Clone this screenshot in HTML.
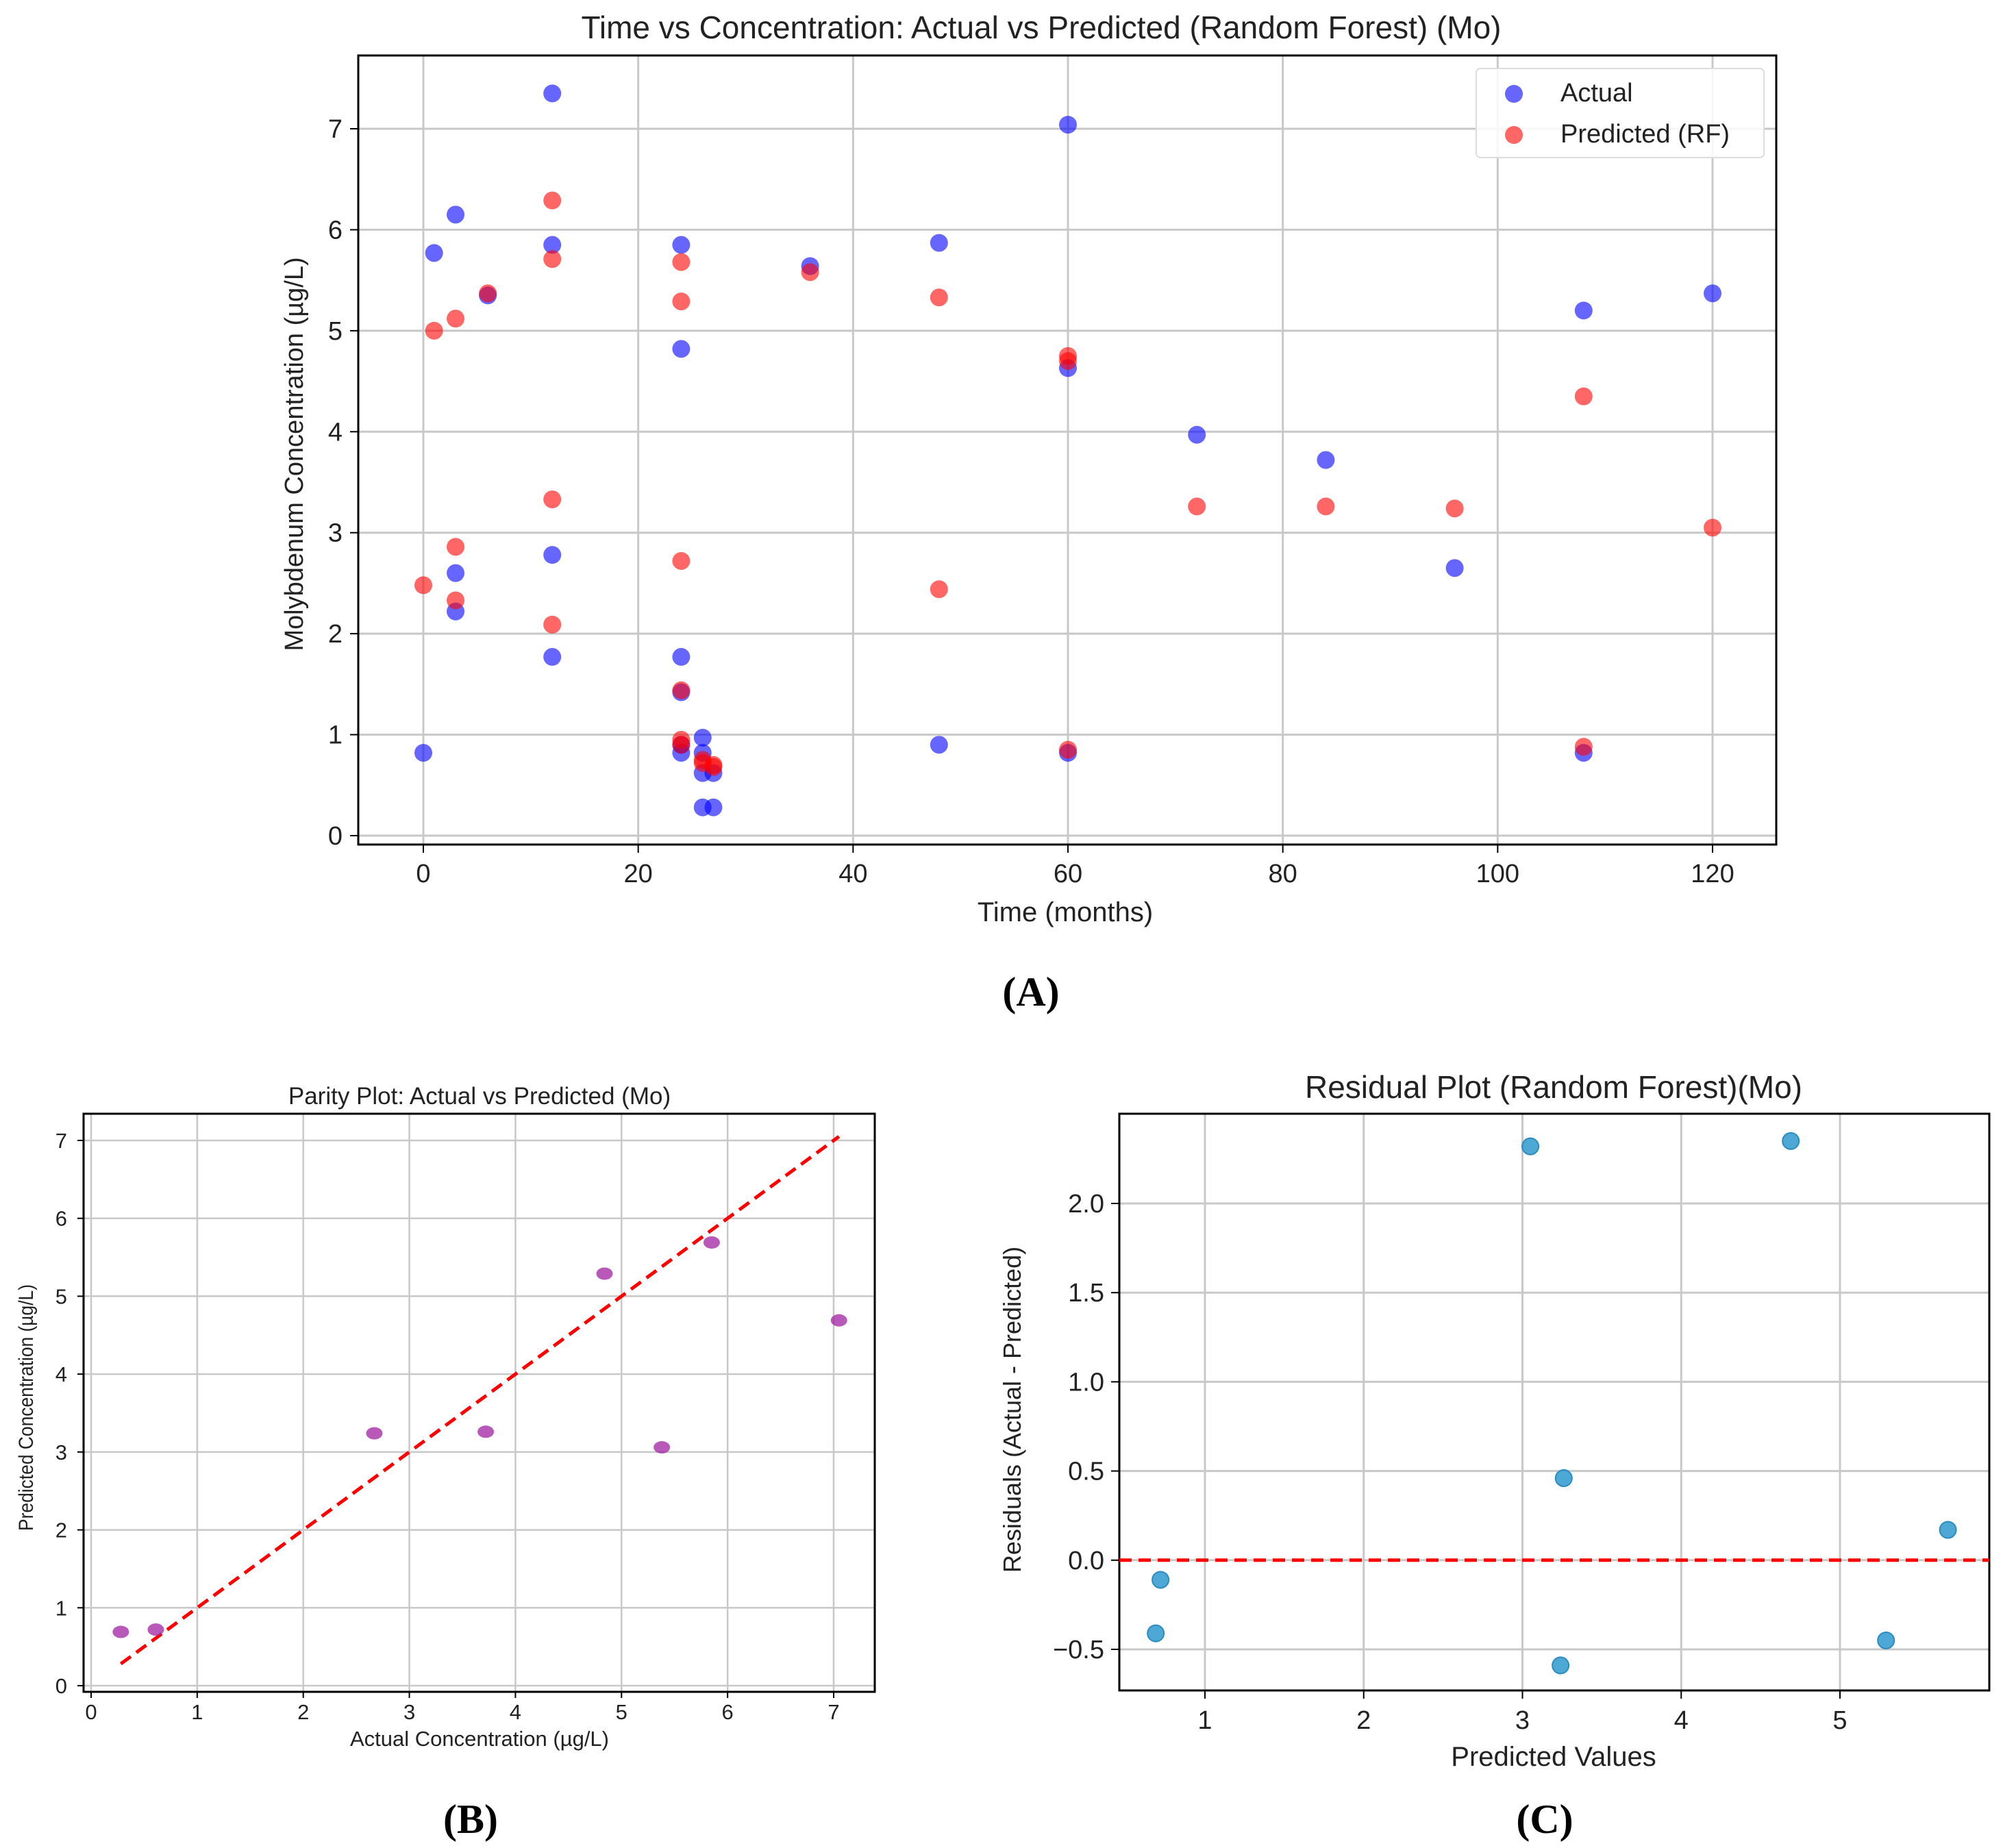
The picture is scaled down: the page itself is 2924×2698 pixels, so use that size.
<!DOCTYPE html>
<html><head><meta charset="utf-8"><style>
body{margin:0;background:#fff;}
svg{display:block;font-family:"Liberation Sans","DejaVu Sans",sans-serif;}
</style></head><body>
<svg id="s" width="2924" height="2698" viewBox="0 0 2924 2698"></svg>
<script>
// ---- Panel A data ----
const aTimeActual=[0,1,3,3,3,6,12,12,12,12,24,24,24,24,24,24,26,26,26,26,27,27,36,48,48,60,60,60,72,84,96,108,108,120];
const aConcActual=[0.82,5.77,6.15,2.6,2.22,5.35,7.35,5.85,2.78,1.77,5.85,4.82,1.77,1.42,0.9,0.82,0.97,0.82,0.62,0.28,0.62,0.28,5.64,5.87,0.9,7.04,4.63,0.82,3.97,3.72,2.65,5.2,0.82,5.37];
const aTimePred=[0,1,3,3,3,6,12,12,12,12,24,24,24,24,24,24,26,26,27,27,36,48,48,60,60,60,72,84,96,108,108,120];
const aConcPred=[2.48,5.0,5.12,2.86,2.33,5.37,6.29,5.71,3.33,2.09,5.68,5.29,2.72,1.44,0.95,0.9,0.75,0.72,0.7,0.68,5.58,5.33,2.44,4.75,4.7,0.85,3.26,3.26,3.24,4.35,0.88,3.05];
const aXTicks=[0,20,40,60,80,100,120];
const aYTicks=[0,1,2,3,4,5,6,7];
// ---- Panel B data ----
const bActual=[0.28,0.61,2.67,3.72,4.84,5.38,5.85,7.05];
const bPred=[0.69,0.72,3.24,3.26,5.29,3.06,5.69,4.69];
const bTicks=[0,1,2,3,4,5,6,7];
// ---- Panel C data ----
const cPred=[0.69,0.72,3.05,3.26,3.24,4.69,5.29,5.68];
const cResid=[-0.41,-0.11,2.32,0.46,-0.59,2.35,-0.45,0.17];
const cXTicks=[1,2,3,4,5];
const cYTicks=[-0.5,0.0,0.5,1.0,1.5,2.0];
const cYLabels=["\u22120.5","0.0","0.5","1.0","1.5","2.0"];

const NS="http://www.w3.org/2000/svg";
const svg=document.getElementById('s');
function el(tag,attrs,parent,text){const e=document.createElementNS(NS,tag);for(const k in attrs)e.setAttribute(k,attrs[k]);if(text!==undefined)e.textContent=text;(parent||svg).appendChild(e);return e;}
function lin(d0,d1,p0,p1){return v=>p0+(v-d0)*(p1-p0)/(d1-d0);}

// ===== Panel A =====
const AL=523,AR=2593,AT=81,AB=1233;
const ax=lin(0,120,618,2500), ay=lin(0,7,1220,188);
const gA=el('g',{});


aXTicks.forEach(t=>{const x=ax(t);
 const l=el('line',{x1:x,x2:x,y1:AT,y2:AB,stroke:'#c8c8c8','stroke-width':3},gA);
 el('line',{x1:x,x2:x,y1:AB,y2:AB+12,stroke:'#000','stroke-width':2},gA);
 const tx=el('text',{x:x,y:AB+55,'font-size':38,'text-anchor':'middle',fill:'#222'},gA,String(t));});
aYTicks.forEach(t=>{const y=ay(t);
 const l=el('line',{x1:AL,x2:AR,y1:y,y2:y,stroke:'#c8c8c8','stroke-width':3},gA);
 el('line',{x1:AL-12,x2:AL,y1:y,y2:y,stroke:'#000','stroke-width':2},gA);
 const tx=el('text',{x:500,y:y+13,'font-size':38,'text-anchor':'end',fill:'#222'},gA,String(t));});
const fa=el('rect',{x:AL,y:AT,width:AR-AL,height:AB-AT,fill:'none',stroke:'#000','stroke-width':3},gA);
aTimeActual.forEach((t,i)=>{const c=el('circle',{cx:ax(t),cy:ay(aConcActual[i]),r:13,fill:'#0000ff','fill-opacity':0.6},gA);});
aTimePred.forEach((t,i)=>{const c=el('circle',{cx:ax(t),cy:ay(aConcPred[i]),r:13,fill:'#ff0000','fill-opacity':0.6},gA);});
let t1=el('text',{x:1520,y:56,'font-size':46,'text-anchor':'middle',fill:'#222'},gA,'Time vs Concentration: Actual vs Predicted (Random Forest) (Mo)');
t1=el('text',{x:1555,y:1345,'font-size':40,'text-anchor':'middle',fill:'#222'},gA,'Time (months)');
t1=el('text',{x:0,y:0,'font-size':38,'text-anchor':'middle',fill:'#222',transform:'translate(442,663) rotate(-90)'},gA,'Molybdenum Concentration (µg/L)');
const lg=el('g',{},gA);
el('rect',{x:2155,y:100,width:420,height:130,rx:6,fill:'#fff','fill-opacity':0.85,stroke:'#ddd','stroke-width':2},lg);
let le=el('circle',{cx:2210,cy:137,r:13,fill:'#0000ff','fill-opacity':0.6},lg);
le=el('text',{x:2278,y:148,'font-size':38,fill:'#222'},lg,'Actual');
le=el('circle',{cx:2210,cy:197,r:13,fill:'#ff0000','fill-opacity':0.6},lg);
le=el('text',{x:2278,y:208,'font-size':38,fill:'#222'},lg,'Predicted (RF)');
t1=el('text',{x:1505,y:1468,'font-size':60,'font-weight':'bold','text-anchor':'middle','font-family':'Liberation Serif,serif',fill:'#000'},gA,'(A)');

// ===== Panel B =====
const BL=122,BR=1277,BT=1626,BB=2470;
const bx=lin(0,7,133,1217), by=lin(0,7,2461,1665);
const gB=el('g',{});


bTicks.forEach(t=>{const x=bx(t),y=by(t);
 let l=el('line',{x1:x,x2:x,y1:BT,y2:BB,stroke:'#c8c8c8','stroke-width':2.5},gB);
 l=el('line',{x1:BL,x2:BR,y1:y,y2:y,stroke:'#c8c8c8','stroke-width':2.5},gB);
 el('line',{x1:x,x2:x,y1:BB,y2:BB+9,stroke:'#000','stroke-width':2},gB);
 el('line',{x1:BL-9,x2:BL,y1:y,y2:y,stroke:'#000','stroke-width':2},gB);
 let tx=el('text',{x:x,y:BB+40,'font-size':31,'text-anchor':'middle',fill:'#222'},gB,String(t));
 tx=el('text',{x:98,y:y+11,'font-size':31,'text-anchor':'end',fill:'#222'},gB,String(t));});
el('rect',{x:BL,y:BT,width:BR-BL,height:BB-BT,fill:'none',stroke:'#000','stroke-width':3},gB);
const bmin=Math.min(...bActual), bmax=Math.max(...bActual);
let dl=el('line',{x1:bx(bmin),y1:by(bmin),x2:bx(bmax),y2:by(bmax),stroke:'#ff0000','stroke-width':5,'stroke-dasharray':'18,10'},gB);
bActual.forEach((v,i)=>{const c=el('ellipse',{cx:bx(v),cy:by(bPred[i]),rx:12,ry:9,fill:'#a020a0','fill-opacity':0.75},gB);});
t1=el('text',{x:700,y:1612,'font-size':35,'text-anchor':'middle',fill:'#222'},gB,'Parity Plot: Actual vs Predicted (Mo)');
t1=el('text',{x:700,y:2549,'font-size':31,'text-anchor':'middle',fill:'#222'},gB,'Actual Concentration (µg/L)');
t1=el('text',{x:0,y:0,'font-size':30,'text-anchor':'middle',fill:'#222',transform:'translate(48,2055) rotate(-90) scale(0.88,1)'},gB,'Predicted Concentration (µg/L)');
t1=el('text',{x:687,y:2676,'font-size':60,'font-weight':'bold','text-anchor':'middle','font-family':'Liberation Serif,serif',fill:'#000'},gB,'(B)');

// ===== Panel C =====
const CL=1634,CR=2904,CT=1626,CB=2468;
const cx=lin(1,5,1759,2686), cy=lin(-0.5,2.0,2408,1757);
const gC=el('g',{});


cXTicks.forEach(t=>{const x=cx(t);
 let l=el('line',{x1:x,x2:x,y1:CT,y2:CB,stroke:'#c8c8c8','stroke-width':3},gC);
 el('line',{x1:x,x2:x,y1:CB,y2:CB+12,stroke:'#000','stroke-width':2},gC);
 const tx=el('text',{x:x,y:CB+56,'font-size':38,'text-anchor':'middle',fill:'#222'},gC,String(t));});
cYTicks.forEach((t,i)=>{const y=cy(t);
 let l=el('line',{x1:CL,x2:CR,y1:y,y2:y,stroke:'#c8c8c8','stroke-width':3},gC);
 el('line',{x1:CL-12,x2:CL,y1:y,y2:y,stroke:'#000','stroke-width':2},gC);
 const tx=el('text',{x:1612,y:y+13,'font-size':38,'text-anchor':'end',fill:'#222'},gC,cYLabels[i]);});
el('rect',{x:CL,y:CT,width:CR-CL,height:CB-CT,fill:'none',stroke:'#000','stroke-width':3},gC);
dl=el('line',{x1:CL,x2:CR,y1:cy(0),y2:cy(0),stroke:'#ff0000','stroke-width':5,'stroke-dasharray':'18,10'},gC);
cPred.forEach((v,i)=>{const c=el('circle',{cx:cx(v),cy:cy(cResid[i]),r:12,fill:'#3a9fd0','fill-opacity':0.9,stroke:'#2b8cc0','stroke-width':2},gC);});
t1=el('text',{x:2268,y:1603,'font-size':46,'text-anchor':'middle',fill:'#222'},gC,'Residual Plot (Random Forest)(Mo)');
t1=el('text',{x:2268,y:2578,'font-size':40,'text-anchor':'middle',fill:'#222'},gC,'Predicted Values');
t1=el('text',{x:0,y:0,'font-size':36,'text-anchor':'middle',fill:'#222',transform:'translate(1490,2058) rotate(-90)'},gC,'Residuals (Actual - Predicted)');
t1=el('text',{x:2255,y:2676,'font-size':60,'font-weight':'bold','text-anchor':'middle','font-family':'Liberation Serif,serif',fill:'#000'},gC,'(C)');
</script>
</body></html>
